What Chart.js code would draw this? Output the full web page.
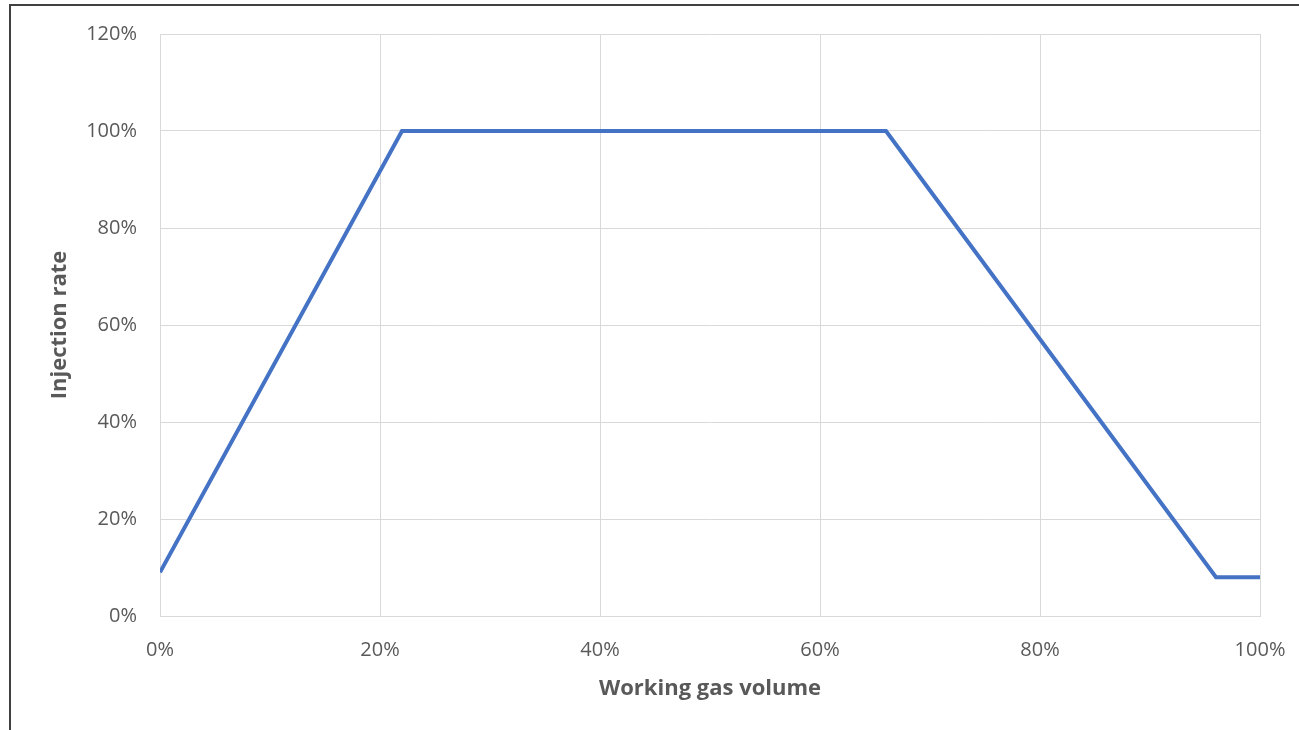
<!DOCTYPE html>
<html>
<head>
<meta charset="utf-8">
<script src="https://cdn.jsdelivr.net/npm/chart.js@4"></script>
<style>
    html, body { margin: 0; padding: 0; background: #fff; }
    #wrap { position: relative; width: 1299px; height: 730px; overflow: hidden; }
    #frame { position: absolute; left: 9px; top: 4px; right: -10px; bottom: -10px;
             border-left: 2px solid #404040; border-top: 2px solid #404040; }
    canvas { position: absolute; left: 0; top: 0; }
</style>
</head>
<body>
<div id="wrap">
    <div id="frame"></div>
    <canvas id="chart" width="1299" height="730"></canvas>
</div>
<script>
// working gas volume (%) vs injection rate (%)
const volume = [0, 22, 66, 96, 100];
const rate = [9, 100, 100, 8, 8];
const xTicks = [0, 20, 40, 60, 80, 100];
const yTicks = [0, 20, 40, 60, 80, 100, 120];

const points = volume.map((v, i) => ({ x: v, y: rate[i] }));
const grey = '#595959';
const gridColor = '#d9d9d9';

new Chart(document.getElementById('chart'), {
    type: 'scatter',
    data: {
        datasets: [{
            data: points,
            showLine: true,
            borderColor: '#4472C4',
            borderWidth: 4,
            pointRadius: 0,
            fill: false,
            tension: 0
        }]
    },
    options: {
        responsive: false,
        animation: false,
        layout: { padding: { top: 34, right: 39, bottom: 0, left: 0 } },
        plugins: { legend: { display: false }, tooltip: { enabled: false } },
        scales: {
            x: {
                type: 'linear',
                min: xTicks[0],
                max: xTicks[xTicks.length - 1],
                afterBuildTicks: s => { s.ticks = xTicks.map(v => ({ value: v })); },
                afterFit: s => { s.height = 114; s.paddingLeft = 0; s.paddingRight = 0; },
                grid: { color: gridColor, drawTicks: false },
                border: { color: gridColor },
                ticks: {
                    color: grey,
                    padding: 22,
                    font: { family: 'Open Sans', size: 20 },
                    callback: v => v + '%'
                },
                title: {
                    display: true,
                    text: 'Working gas volume',
                    color: grey,
                    font: { family: 'Open Sans', size: 22, weight: 'bold' },
                    padding: { top: 0, bottom: 28 }
                }
            },
            y: {
                type: 'linear',
                min: yTicks[0],
                max: yTicks[yTicks.length - 1],
                afterBuildTicks: s => { s.ticks = yTicks.map(v => ({ value: v })); },
                afterFit: s => { s.width = 160; s.paddingTop = 0; s.paddingBottom = 0; },
                grid: { color: gridColor, drawTicks: false },
                border: { color: gridColor },
                ticks: {
                    color: grey,
                    padding: 23,
                    font: { family: 'Open Sans', size: 20 },
                    callback: v => v + '%'
                },
                title: {
                    display: true,
                    text: 'Injection rate',
                    color: grey,
                    font: { family: 'Open Sans', size: 22, weight: 'bold' },
                    padding: { top: 47, bottom: 0 }
                }
            }
        }
    }
});
</script>
</body>
</html>
